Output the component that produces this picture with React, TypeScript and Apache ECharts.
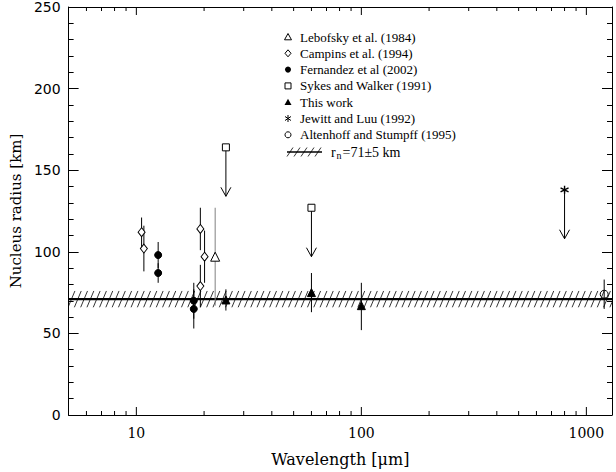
import React, { useEffect, useRef } from "react";
import * as echarts from "echarts";

// Measurements: [wavelength (µm), radius (km), error low (km), error high (km)]
const lebofsky: number[][] = [[22.4, 97, 67, 127]];
const campins: number[][] = [
  [10.55, 112, 103, 121],
  [10.8, 102, 88, 116],
  [19.25, 114, 101, 127],
  [20.1, 97, 81, 113],
  [19.25, 79, 66, 92],
];
const fernandez: number[][] = [
  [12.5, 98, 90, 106],
  [12.5, 87, 81, 93],
  [18, 70, 59, 81],
  [18, 65, 53, 77],
];
const thisWork: number[][] = [
  [25, 70.5, 64, 77],
  [60, 75, 63, 87],
  [100, 67, 52, 81],
];
const altenhoff: number[][] = [[1200, 74, 65, 83]];

// Upper limits: [wavelength (µm), radius (km)]
const sykesWalker: number[][] = [[25, 164], [60, 127]];
const jewittLuu: number[][] = [[800, 138]];
const arrowLength = 30; // km

// Mean nucleus radius
const meanRadius = 71;
const radiusError = 5;

// Axes
const xMin = 5;
const xMax = 1300;
const xMajorTicks = [10, 100, 1000];
const xMinorTicks = [6, 7, 8, 9, 20, 30, 40, 50, 60, 70, 80, 90, 200, 300, 400, 500, 600, 700, 800, 900];
const yMin = 0;
const yMax = 250;
const yInterval = 50;

const legendLabels = [
  "Lebofsky et al. (1984)",
  "Campins et al. (1994)",
  "Fernandez et al (2002)",
  "Sykes and Walker (1991)",
  "This work",
  "Jewitt and Luu (1992)",
  "Altenhoff and Stumpff (1995)",
];

const SERIF = "Liberation Serif";
const ASTERISK = "path://M0,-10L0,10M-8.7,-5L8.7,5M-8.7,5L8.7,-5";

function errorBars(name: string, data: number[][], color: string) {
  return {
    type: "custom",
    name: name + " errors",
    xAxisIndex: 0,
    yAxisIndex: 0,
    data: data.map((d) => [d[0], d[1], d[2], d[3]]),
    encode: { x: 0, y: [1, 2, 3] },
    z: 1,
    renderItem: (_params: any, api: any) => {
      const p1 = api.coord([api.value(0), api.value(2)]);
      const p2 = api.coord([api.value(0), api.value(3)]);
      return {
        type: "line",
        shape: { x1: p1[0], y1: p1[1], x2: p2[0], y2: p2[1] },
        style: { stroke: color, lineWidth: 1 },
      };
    },
  };
}

function upperLimitArrows(name: string, data: number[][]) {
  return {
    type: "custom",
    name: name + " limits",
    xAxisIndex: 0,
    yAxisIndex: 0,
    data: data.map((d) => [d[0], d[1]]),
    encode: { x: 0, y: 1 },
    z: 1,
    renderItem: (_params: any, api: any) => {
      const x = api.value(0);
      const y = api.value(1);
      const p1 = api.coord([x, y]);
      const p2 = api.coord([x, y - arrowLength]);
      return {
        type: "group",
        children: [
          {
            type: "line",
            shape: { x1: p1[0], y1: p1[1], x2: p2[0], y2: p2[1] },
            style: { stroke: "#000", lineWidth: 1 },
          },
          {
            type: "polyline",
            shape: {
              points: [
                [p2[0] - 5, p2[1] - 9],
                [p2[0], p2[1]],
                [p2[0] + 5, p2[1] - 9],
              ],
            },
            style: { stroke: "#000", fill: "none", lineWidth: 1 },
          },
        ],
      };
    },
  };
}

function markers(name: string, data: number[][], symbol: string, size: any, filled: boolean, extra: any = {}) {
  return {
    type: "scatter",
    name,
    xAxisIndex: 0,
    yAxisIndex: 0,
    data: data.map((d) => [d[0], d[1]]),
    symbol,
    symbolSize: size,
    z: 3,
    itemStyle: {
      color: filled ? "#000" : "#fff",
      borderColor: "#000",
      borderWidth: 1,
      opacity: 1,
      ...extra,
    },
  };
}

const hatchBand = {
  type: "custom",
  name: "mean radius",
  xAxisIndex: 0,
  yAxisIndex: 0,
  data: [[xMin, meanRadius, radiusError]],
  encode: { x: 0, y: 1 },
  z: 1,
  renderItem: (params: any, api: any) => {
    const cs = params.coordSys;
    const r = api.value(1);
    const e = api.value(2);
    const top = api.coord([xMin, r + e])[1];
    const mid = api.coord([xMin, r])[1];
    const bot = api.coord([xMin, r - e])[1];
    const left = cs.x;
    const right = cs.x + cs.width;
    const h = bot - top;
    const slant = h * 0.42;
    const step = 6.3;
    const children: any[] = [];
    for (let x = left - slant; x < right; x += step) {
      let x1 = x;
      let y1 = bot;
      let x2 = x + slant;
      let y2 = top;
      if (x2 <= left) continue;
      if (x1 < left) {
        const t = (left - x1) / slant;
        x1 = left;
        y1 = bot - t * h;
      }
      if (x2 > right) {
        const t = (x2 - right) / slant;
        x2 = right;
        y2 = top + t * h;
      }
      children.push({
        type: "line",
        shape: { x1, y1, x2, y2 },
        style: { stroke: "#000", lineWidth: 0.8 },
      });
    }
    children.push({
      type: "line",
      shape: { x1: left, y1: mid, x2: right, y2: mid },
      style: { stroke: "#000", lineWidth: 2.2 },
    });
    return { type: "group", children };
  },
};

const xTickSeries = {
  type: "custom",
  name: "x ticks",
  xAxisIndex: 0,
  yAxisIndex: 0,
  data: [...xMajorTicks.map((v) => [v, 1]), ...xMinorTicks.map((v) => [v, 0])],
  encode: { x: 0 },
  z: 4,
  silent: true,
  renderItem: (params: any, api: any) => {
    const cs = params.coordSys;
    const px = api.coord([api.value(0), yMin])[0];
    const len = api.value(1) ? 8 : 4;
    const b = cs.y + cs.height;
    const t = cs.y;
    return {
      type: "group",
      children: [
        { type: "line", shape: { x1: px, y1: b, x2: px, y2: b - len }, style: { stroke: "#000", lineWidth: 1 } },
        { type: "line", shape: { x1: px, y1: t, x2: px, y2: t + len }, style: { stroke: "#000", lineWidth: 1 } },
      ],
    };
  },
};

function legendGraphic() {
  const sx = 288;
  const tx = 300;
  const rows = [37, 53.3, 69.6, 85.9, 102.2, 118.5, 134.8];
  const st = { stroke: "#000", lineWidth: 1 };
  const els: any[] = [];
  const mk = (i: number, cy: number) => {
    switch (i) {
      case 0:
        return { type: "polygon", shape: { points: [[sx, cy - 3.5], [sx + 3.5, cy + 2.8], [sx - 3.5, cy + 2.8]] }, style: { ...st, fill: "#fff" } };
      case 1:
        return { type: "polygon", shape: { points: [[sx, cy - 3.5], [sx + 3, cy], [sx, cy + 3.5], [sx - 3, cy]] }, style: { ...st, fill: "#fff" } };
      case 2:
        return { type: "circle", shape: { cx: sx, cy, r: 3 }, style: { fill: "#000" } };
      case 3:
        return { type: "rect", shape: { x: sx - 3, y: cy - 3, width: 6, height: 6 }, style: { ...st, fill: "#fff" } };
      case 4:
        return { type: "polygon", shape: { points: [[sx, cy - 3.5], [sx + 3.5, cy + 2.8], [sx - 3.5, cy + 2.8]] }, style: { fill: "#000" } };
      case 5:
        return {
          type: "group",
          children: [
            { type: "line", shape: { x1: sx, y1: cy - 3.5, x2: sx, y2: cy + 3.5 }, style: st },
            { type: "line", shape: { x1: sx - 3, y1: cy - 2, x2: sx + 3, y2: cy + 2 }, style: st },
            { type: "line", shape: { x1: sx - 3, y1: cy + 2, x2: sx + 3, y2: cy - 2 }, style: st },
          ],
        };
      default:
        return { type: "circle", shape: { cx: sx, cy, r: 3 }, style: { ...st, fill: "#fff" } };
    }
  };
  legendLabels.forEach((label, i) => {
    els.push(mk(i, rows[i]));
    els.push({
      type: "text",
      x: tx,
      y: rows[i],
      style: { text: label, fontFamily: SERIF, fontSize: 13, fill: "#000", align: "left", verticalAlign: "middle" },
    });
  });
  // hatched band entry
  const hy = 152;
  els.push({ type: "line", shape: { x1: 287, y1: hy, x2: 322, y2: hy }, style: { stroke: "#000", lineWidth: 1.5 } });
  for (let k = 0; k < 5; k++) {
    const x = 290 + k * 7;
    els.push({ type: "line", shape: { x1: x - 3, y1: hy + 4.5, x2: x + 3, y2: hy - 4.5 }, style: { stroke: "#000", lineWidth: 0.8 } });
  }
  els.push({ type: "text", x: 331, y: hy, style: { text: "r", fontFamily: SERIF, fontSize: 14, fill: "#000", verticalAlign: "middle" } });
  els.push({ type: "text", x: 336.5, y: hy + 3, style: { text: "n", fontFamily: SERIF, fontSize: 10, fill: "#000", verticalAlign: "middle" } });
  els.push({ type: "text", x: 342.5, y: hy, style: { text: "=71±5 km", fontFamily: SERIF, fontSize: 14, fill: "#000", verticalAlign: "middle" } });
  return els;
}

const isMajor = (v: number) => xMajorTicks.some((t) => Math.abs(v - t) / t < 1e-6);

const yAxisBase = {
  type: "value",
  min: yMin,
  max: yMax,
  interval: yInterval,
  axisLine: { show: true, onZero: false, lineStyle: { color: "#000", width: 1 } },
  axisTick: { show: true, inside: true, length: 10, lineStyle: { color: "#000", width: 1 } },
  minorTick: { show: true, splitNumber: 5, length: 5, lineStyle: { color: "#000", width: 1 } },
  splitLine: { show: false },
};

const option: any = {
  animation: false,
  backgroundColor: "#fff",
  grid: { left: 66, right: 4, top: 6, bottom: 49, containLabel: false },
  xAxis: [
    {
      type: "log",
      logBase: 10,
      min: xMin,
      max: xMax,
      position: "bottom",
      axisLine: { show: true, onZero: false, lineStyle: { color: "#000", width: 1 } },
      axisTick: { show: false },
      minorTick: { show: false },
      splitLine: { show: false },
      axisLabel: {
        color: "#000",
        fontFamily: "DejaVu Serif",
        fontSize: 14,
        margin: 11,
        showMinLabel: false,
        showMaxLabel: false,
        formatter: (v: number) => (isMajor(v) ? String(Math.round(v)) : ""),
      },
      name: "Wavelength [μm]",
      nameLocation: "middle",
      nameGap: 36,
      nameTextStyle: { color: "#000", fontFamily: "DejaVu Serif", fontSize: 16 },
    },
    {
      type: "log",
      logBase: 10,
      min: xMin,
      max: xMax,
      position: "top",
      axisLine: { show: true, onZero: false, lineStyle: { color: "#000", width: 1 } },
      axisTick: { show: false },
      axisLabel: { show: false },
      splitLine: { show: false },
    },
  ],
  yAxis: [
    {
      ...yAxisBase,
      position: "left",
      axisLabel: { color: "#000", fontFamily: "DejaVu Sans", fontSize: 14, margin: 8 },
      name: "Nucleus radius [km]",
      nameLocation: "middle",
      nameGap: 42,
      nameTextStyle: { color: "#000", fontFamily: "DejaVu Serif", fontSize: 15 },
    },
    {
      ...yAxisBase,
      position: "right",
      axisLabel: { show: false },
    },
  ],
  graphic: legendGraphic(),
  series: [
    hatchBand,
    errorBars("Lebofsky et al. (1984)", lebofsky, "#808080"),
    errorBars("Campins et al. (1994)", campins, "#000"),
    errorBars("Fernandez et al (2002)", fernandez, "#000"),
    errorBars("This work", thisWork, "#000"),
    errorBars("Altenhoff and Stumpff (1995)", altenhoff, "#000"),
    upperLimitArrows("Sykes and Walker (1991)", sykesWalker),
    upperLimitArrows("Jewitt and Luu (1992)", jewittLuu),
    markers("Lebofsky et al. (1984)", lebofsky, "triangle", 9, false),
    markers("Campins et al. (1994)", campins, "diamond", [7, 9], false),
    markers("Fernandez et al (2002)", fernandez, "circle", 7, true),
    markers("Sykes and Walker (1991)", sykesWalker, "rect", 7, false),
    markers("This work", thisWork, "triangle", 8, true),
    markers("Jewitt and Luu (1992)", jewittLuu, ASTERISK, 8, false, { color: "none", borderWidth: 1.4 }),
    markers("Altenhoff and Stumpff (1995)", altenhoff, "circle", 8, false, { color: "none" }),
    xTickSeries,
  ],
};

export default function App() {
  const ref = useRef<HTMLDivElement>(null);
  useEffect(() => {
    if (!ref.current) return;
    const chart = echarts.init(ref.current, null, { renderer: "svg" });
    chart.setOption(option);
    return () => chart.dispose();
  }, []);
  return <div ref={ref} style={{ position: "absolute", left: 0, top: 0, width: 616, height: 472 }} />;
}
